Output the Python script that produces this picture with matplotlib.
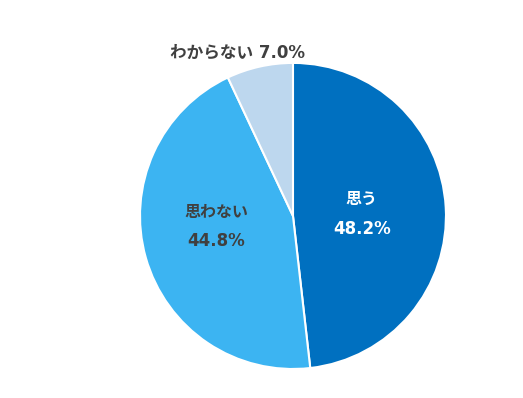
import matplotlib
matplotlib.use('Agg')
import matplotlib.pyplot as plt
import numpy as np

plt.rcParams['font.family'] = ['DejaVu Sans', 'Noto Sans CJK JP']

labels = ['思う', '思わない', 'わからない']
values = [48.2, 44.8, 7.0]
colors = ['#0070C0', '#3CB4F2', '#BDD7EE']
text_colors = ['white', '#404040', '#404040']

fig = plt.figure(figsize=(5.23, 3.98), dpi=100)
ax = fig.add_axes([0.2677, 0.0729, 0.585, 0.769])

wedges, _ = ax.pie(values, colors=colors, startangle=90, counterclock=False,
                   radius=1.0, wedgeprops=dict(edgecolor='white', linewidth=1.5))
ax.set_xlim(-1, 1)
ax.set_ylim(-1, 1)
ax.set_aspect('auto')
ax.axis('off')

# label positions (fraction of radius)
label_r = [0.45, 0.52, 1.1]
for w, lab, val, tc, r in zip(wedges, labels, values, text_colors, label_r):
    ang = np.deg2rad((w.theta1 + w.theta2) / 2)
    x, y = r * np.cos(ang), r * np.sin(ang) * 0.5
    if r > 1:
        ax.text(-0.36, 1.07, f'{lab} {val:.1f}%', ha='center', va='center',
                fontsize=12, fontweight='bold', color=tc)
    else:
        ax.text(x, y + 0.095, lab, ha='center', va='center',
                fontsize=11.5, fontweight='bold', color=tc)
        ax.text(x, y - 0.095, f'{val:.1f}%', ha='center', va='center',
                fontsize=12, fontweight='bold', color=tc)

fig.savefig('out.png', dpi=100)
